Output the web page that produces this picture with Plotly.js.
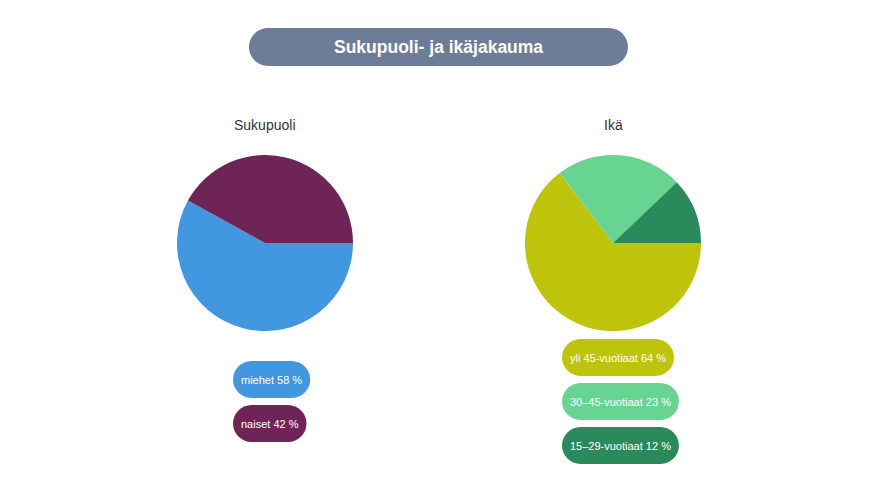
<!DOCTYPE html>
<html>
<head>
<meta charset="utf-8">
<script src="https://cdn.plot.ly/plotly-3.0.1.min.js"></script>
<style>html,body{margin:0;padding:0;background:#fff;}#chart{width:878px;height:493px;}</style>
</head>
<body>
<div id="chart"></div>
<script>
// ---- data ----
const chartTitle = "Sukupuoli- ja ikäjakauma";
const genderTitle = "Sukupuoli";
const genderLabels = ["miehet", "naiset"];
const genderValues = [58, 42];
const genderColors = ["#4197e0", "#6e2457"];
const ageTitle = "Ikä";
const ageLabels = ["yli 45-vuotiaat", "30–45-vuotiaat", "15–29-vuotiaat"];
const ageValues = [64, 23, 12];
const ageColors = ["#bec40b", "#67d492", "#2b8a5b"];

// ---- layout helpers ----
const W = 878, H = 493;
const px = x => x / W;
const py = y => 1 - y / H;
const FONT = "Arial, 'Liberation Sans', sans-serif";

function pillPath(x0, y0, x1, y1) {
  const r = (y1 - y0) / 2, k = 0.5523 * r, yc = (y0 + y1) / 2;
  const P = (x, y) => px(x).toFixed(6) + "," + py(y).toFixed(6);
  return "M" + P(x0 + r, y0) + " L" + P(x1 - r, y0) +
    " C" + P(x1 - r + k, y0) + " " + P(x1, yc - k) + " " + P(x1, yc) +
    " C" + P(x1, yc + k) + " " + P(x1 - r + k, y1) + " " + P(x1 - r, y1) +
    " L" + P(x0 + r, y1) +
    " C" + P(x0 + r - k, y1) + " " + P(x0, yc + k) + " " + P(x0, yc) +
    " C" + P(x0, yc - k) + " " + P(x0 + r - k, y0) + " " + P(x0 + r, y0) + " Z";
}

const ctx = document.createElement("canvas").getContext("2d");
function textWidth(t, size, bold) {
  ctx.font = (bold ? "bold " : "") + size + "px Arial, 'Liberation Sans', sans-serif";
  return ctx.measureText(t).width;
}

const shapes = [], annotations = [];

// title pill
shapes.push({type: "path", xref: "paper", yref: "paper", path: pillPath(249, 28, 628, 66),
  fillcolor: "#6d7d98", line: {width: 0}, layer: "below"});
annotations.push({xref: "paper", yref: "paper", x: px(438.5), y: py(47), text: "<b>" + chartTitle + "</b>",
  showarrow: false, xanchor: "center", yanchor: "middle", font: {family: FONT, size: 17.5, color: "#ffffff"}});

// subtitles
annotations.push({xref: "paper", yref: "paper", x: px(265), y: py(125), text: genderTitle,
  showarrow: false, xanchor: "center", yanchor: "middle", font: {family: FONT, size: 14, color: "#333333"}});
annotations.push({xref: "paper", yref: "paper", x: px(613), y: py(125), text: ageTitle,
  showarrow: false, xanchor: "center", yanchor: "middle", font: {family: FONT, size: 14, color: "#333333"}});

function legendPills(labels, values, colors, left, top) {
  labels.forEach((lab, i) => {
    const txt = lab + " " + values[i] + " %";
    const w = textWidth(txt, 11, false) + 16;
    const y0 = top + i * 44, y1 = y0 + 37;
    shapes.push({type: "path", xref: "paper", yref: "paper", path: pillPath(left, y0, left + w, y1),
      fillcolor: colors[i], line: {width: 0}, layer: "below"});
    annotations.push({xref: "paper", yref: "paper", x: px(left + w / 2), y: py((y0 + y1) / 2), text: txt,
      showarrow: false, xanchor: "center", yanchor: "middle", font: {family: FONT, size: 11, color: "#ffffff"}});
  });
}
legendPills(genderLabels, genderValues, genderColors, 233, 361);
legendPills(ageLabels, ageValues, ageColors, 562, 339);

const traces = [
  {type: "pie", labels: genderLabels, values: genderValues, marker: {colors: genderColors, line: {width: 0}},
    sort: false, direction: "clockwise", rotation: 90, textinfo: "none", hoverinfo: "label+percent",
    domain: {x: [px(177), px(353)], y: [py(331), py(155)]}},
  {type: "pie", labels: ageLabels, values: ageValues, marker: {colors: ageColors, line: {width: 0}},
    sort: false, direction: "clockwise", rotation: 90, textinfo: "none", hoverinfo: "label+percent",
    domain: {x: [px(525), px(701)], y: [py(331), py(155)]}}
];

const layout = {
  width: W, height: H, margin: {l: 0, r: 0, t: 0, b: 0},
  paper_bgcolor: "#ffffff", plot_bgcolor: "#ffffff",
  showlegend: false, shapes: shapes, annotations: annotations
};
Plotly.newPlot("chart", traces, layout, {displayModeBar: false, staticPlot: true});
</script>
</body>
</html>
